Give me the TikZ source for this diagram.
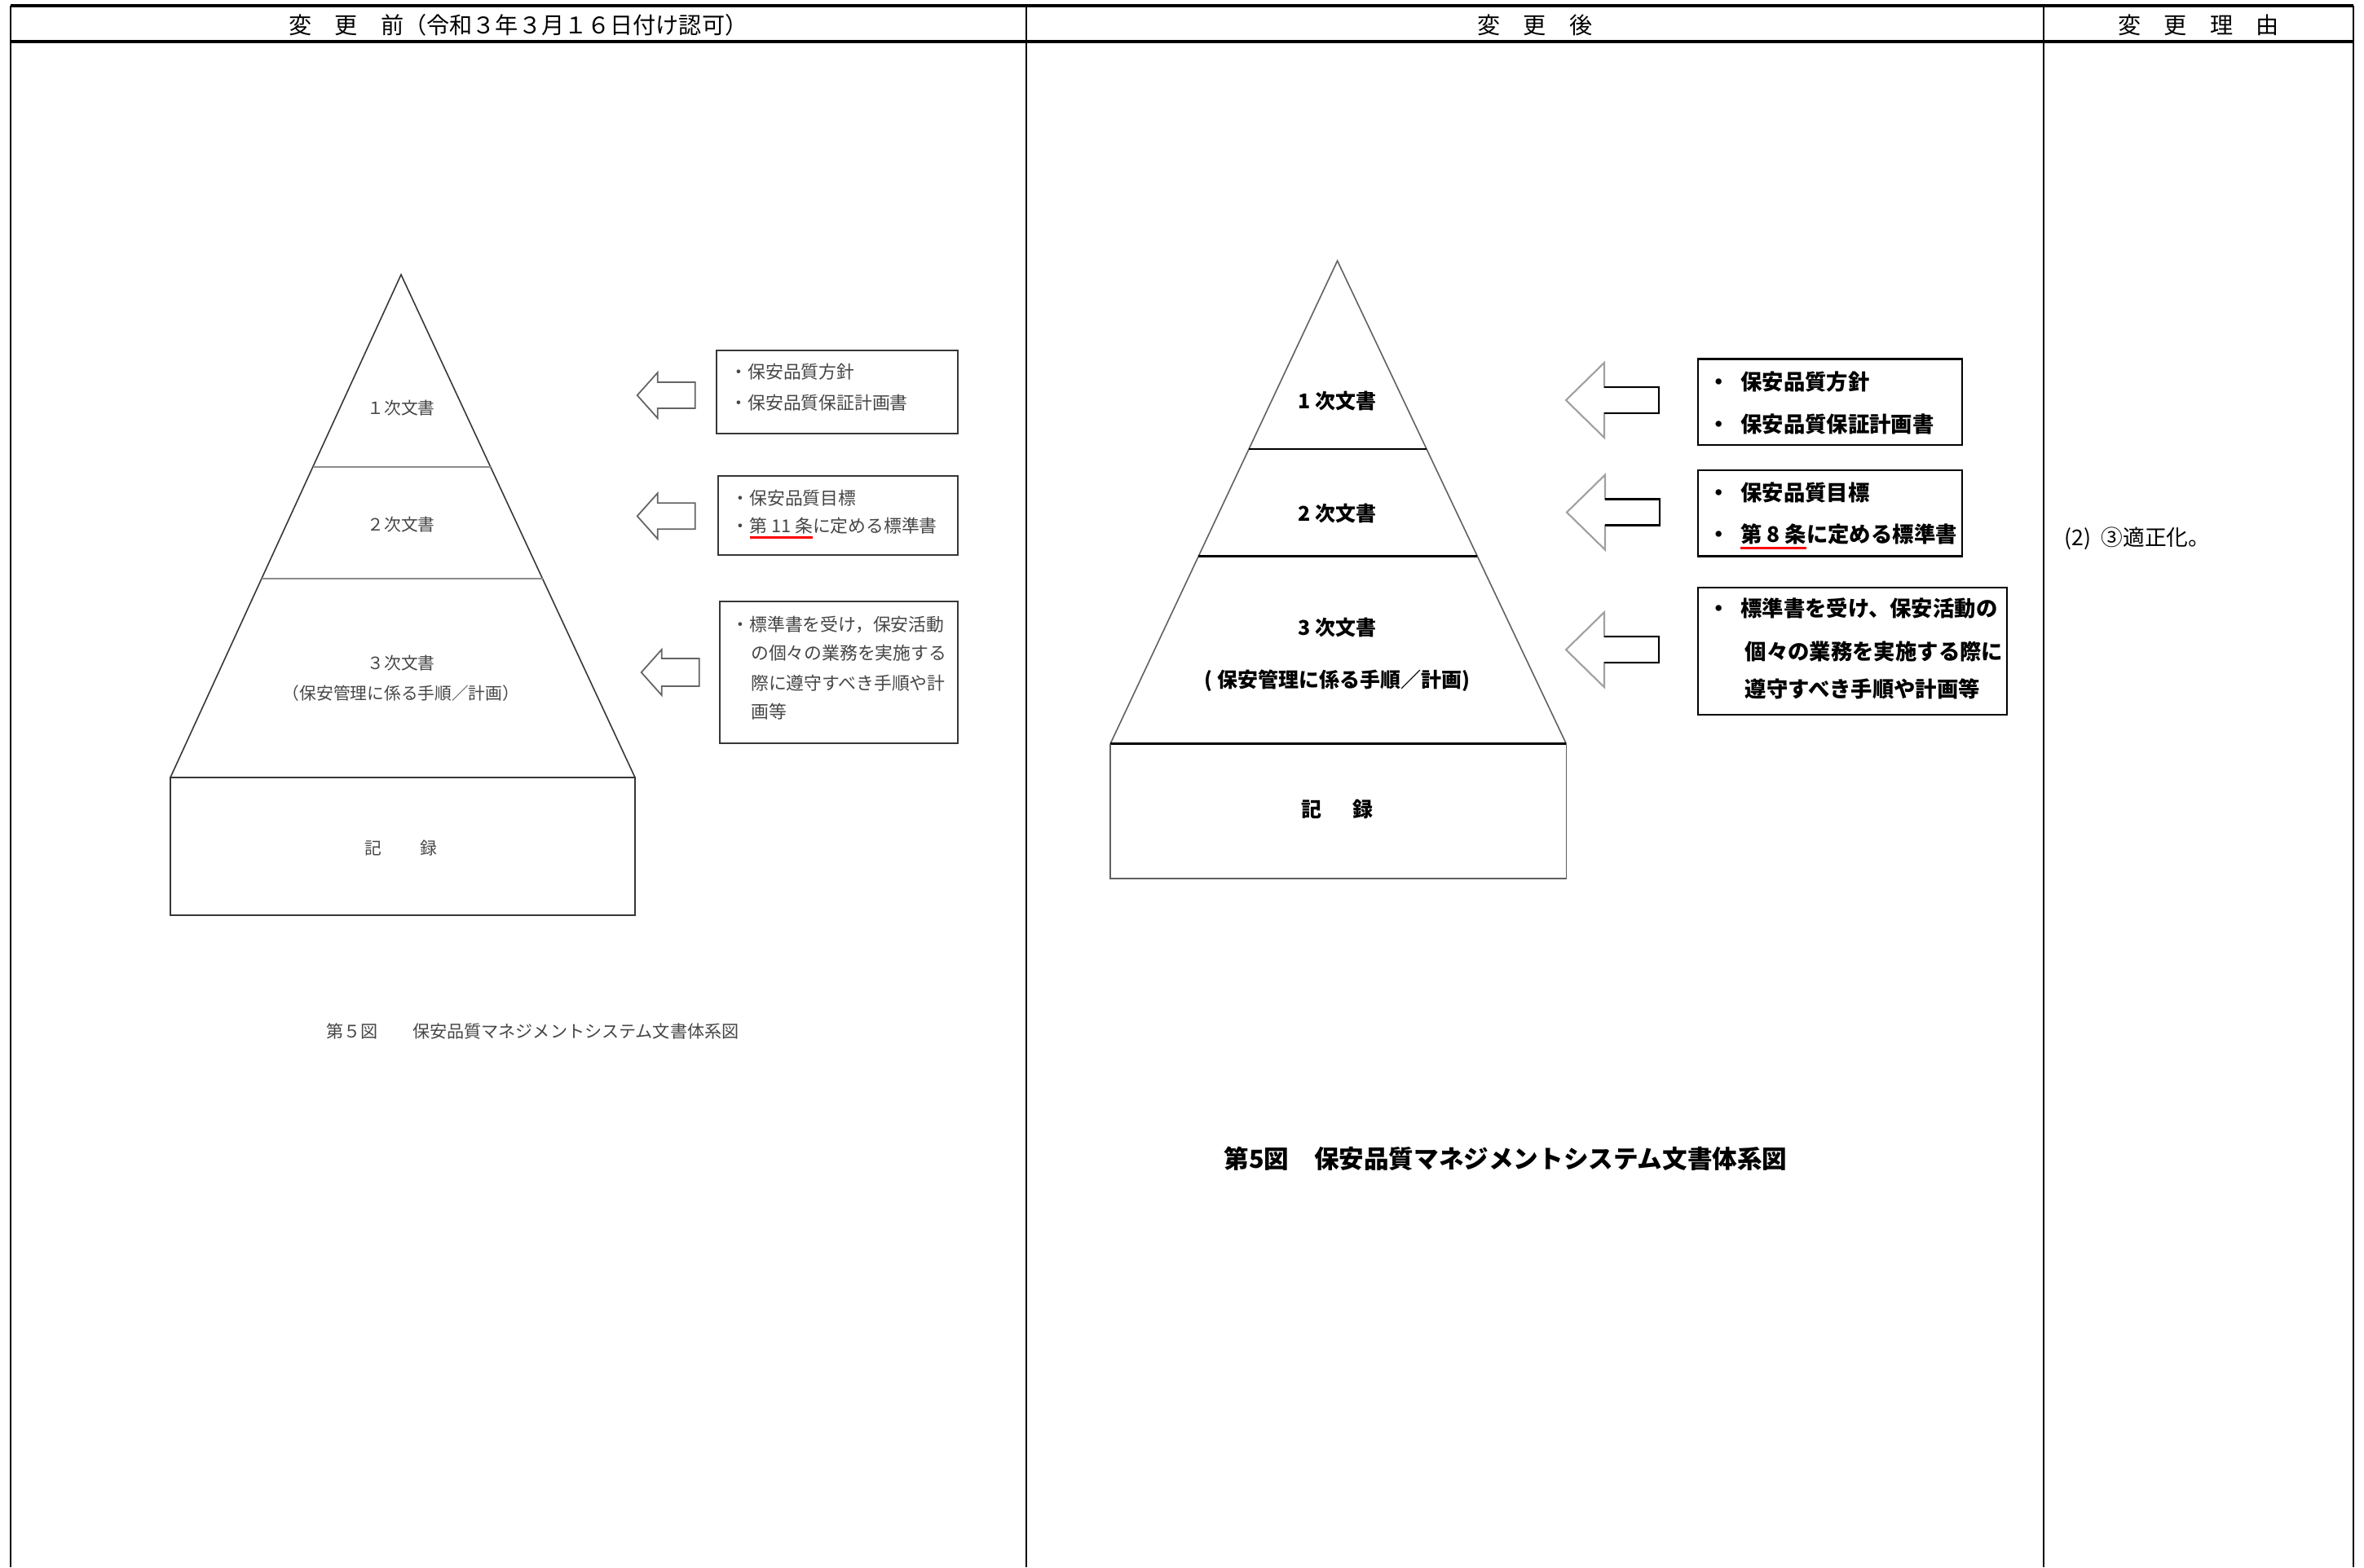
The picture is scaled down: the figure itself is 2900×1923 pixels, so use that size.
\documentclass[tikz,border=0pt]{standalone}
\usepackage{fontspec}
\setmainfont{Noto Sans CJK JP}
\usetikzlibrary{calc}
\definecolor{ltxt}{RGB}{70,70,70}
\definecolor{lline}{RGB}{55,55,55}
\definecolor{lsep}{RGB}{140,140,140}
\definecolor{agray}{RGB}{100,100,100}
\definecolor{rgray}{RGB}{120,120,120}
\newcommand{\redul}[1]{\setbox0=\hbox{#1}\rlap{\textcolor{red}{\rule[-0.34em]{\wd0}{0.13em}}}\box0}
% style, tip, headback, headhalf, shaftend, shafthalf
\newcommand{\harrow}[6]{\draw[#1] (#2) -- ++(#3,-#4) -- ++(0,#4-#6) -- ++(#5-#3,0) -- ++(0,2*#6) -- ++(#3-#5,0) -- ++(0,#4-#6) -- cycle;}
\begin{document}
\begin{tikzpicture}[x=0.01cm,y=-0.01cm,
  rule/.style={line width=1pt,black},
  vrule/.style={line width=0.5pt,black},
  hdr/.style={font=\fontsize{8}{9.6}\selectfont,inner sep=0pt},
  ltext/.style={font=\fontsize{5.9}{7}\selectfont,text=ltxt,inner sep=0pt},
  lbox/.style={font=\fontsize{6.2}{7.4}\selectfont,text=ltxt,inner sep=0pt,anchor=west},
  rlabel/.style={font=\fontsize{7.1}{8.5}\selectfont\bfseries,inner sep=0pt},
  rbox/.style={font=\fontsize{7.5}{9}\selectfont\bfseries,inner sep=0pt,anchor=west},
  lpyr/.style={line width=0.45pt,draw=lline},
  lsepl/.style={line width=0.8pt,draw=lsep},
  rpyr/.style={line width=0.45pt,draw=rgray!80!black},
  rsepl/.style={line width=0.8pt,draw=black},
  lframe/.style={line width=0.55pt,draw=lline},
  rframe/.style={line width=0.7pt,draw=black},
  larrow/.style={line width=0.5pt,draw=agray},
  rarrowhead/.style={line width=0.6pt,draw=rgray!70},
  rarrowshaft/.style={line width=0.7pt,draw=black}]
\useasboundingbox (0,0) rectangle (2900,1923);
\fill[white] (0,0) rectangle (2900,1923);

% ---------- table ----------
\draw[vrule] (13,7) -- (13,1923);
\draw[vrule] (1259,7) -- (1259,1923);
\draw[vrule] (2507,7) -- (2507,1923);
\draw[vrule] (2887,7) -- (2887,1923);
\draw[rule] (13,7) -- (2887,7);
\draw[rule] (13,51) -- (2887,51);
\node[hdr] (h1) at (636,31) {変　更　前（令和３年３月１６日付け認可）};
\node[hdr] (h2) at (1883,31) {変　更　後};
\node[hdr] (h3) at (2697,31) {変　更　理　由};

% ---------- left pyramid ----------
\coordinate (LA) at (492,337);
\coordinate (LBL) at (209,954);
\coordinate (LBR) at (779,954);
\draw[lpyr] (LBL) -- (LA) -- (LBR);
\draw[lsepl] ($(LA)!0.3825!(LBL)$) -- ($(LA)!0.3825!(LBR)$);
\draw[lsepl] ($(LA)!0.6045!(LBL)$) -- ($(LA)!0.6045!(LBR)$);
\draw[lframe] (209,954) rectangle (779,1123);
\node[ltext] (l1) at (492,501) {１次文書};
\node[ltext] (l2) at (492,644) {２次文書};
\node[ltext] (l3a) at (492,814) {３次文書};
\node[ltext] (l3b) at (492,851) {（保安管理に係る手順／計画）};
\node[ltext] (l4) at (492,1041) {記\hspace{2.3em}録};

% left arrows
\coordinate (la1) at (781.7,485);
\coordinate (la2) at (781.7,633.3);
\coordinate (la3) at (786.7,825);
\harrow{larrow}{la1}{25}{28}{71}{16}
\harrow{larrow}{la2}{25}{28}{71}{16}
\harrow{larrow}{la3}{25}{28}{71}{17}

% left boxes
\draw[lframe] (879,430) rectangle (1175,531.7);
\node[lbox] (lb1a) at (895,456.7) {・保安品質方針};
\node[lbox] (lb1b) at (895,494) {・保安品質保証計画書};
\draw[lframe] (880.7,584.3) rectangle (1175,680.7);
\node[lbox] (lb2a) at (897,611.7) {・保安品質目標};
\node[lbox] (lb2b) at (897,648.3) {・\redul{第 11 条}に定める標準書};
\draw[lframe] (882.7,738.3) rectangle (1175,911.7);
\node[lbox] (lb3a) at (897,766.7) {・標準書を受け，保安活動};
\node[lbox] (lb3b) at (920.5,801.7) {の個々の業務を実施する};
\node[lbox] (lb3c) at (920.5,838.3) {際に遵守すべき手順や計};
\node[lbox] (lb3d) at (920.5,873.3) {画等};

\node[ltext,font=\fontsize{6}{7.2}\selectfont,anchor=west] (lcap) at (400,1265) {第５図　　保安品質マネジメントシステム文書体系図};

% ---------- right pyramid ----------
\coordinate (RA) at (1640.6,320);
\coordinate (RBL) at (1362,912.8);
\coordinate (RBR) at (1921.4,912.8);
\draw[rpyr] (RBL) -- (RA) -- (RBR);
\draw[rsepl] ($(RA)!0.3897!(RBL)$) -- ($(RA)!0.3897!(RBR)$);
\draw[rsepl] ($(RA)!0.612!(RBL)$) -- ($(RA)!0.612!(RBR)$);
\draw[rsepl] (RBL) -- (RBR);
\draw[rpyr] (1362,912.8) -- (1362,1078) -- (1921.4,1078) -- (1921.4,912.8);
\node[rlabel] (r1) at (1640.6,491.6) {1 次文書};
\node[rlabel] (r2) at (1640.6,629.6) {2 次文書};
\node[rlabel] (r3a) at (1640.6,770) {3 次文書};
\node[rlabel] (r3b) at (1640.6,835) {( 保安管理に係る手順／計画)};
\node[rlabel] (r4) at (1640.6,993) {記\hspace{1.5em}録};

% right arrows
\coordinate (ra1) at (1921,491);
\coordinate (ra2) at (1922,628.6);
\coordinate (ra3) at (1921,797.2);
\foreach \t in {ra1,ra2,ra3}{
  \harrow{rarrowhead}{\t}{47}{46}{114}{16}
  \draw[rarrowshaft] (\t) ++(47,-16) -- ++(67,0) -- ++(0,32) -- ++(-67,0);
}

% right boxes
\draw[rframe] (2083,440.5) rectangle (2407,546);
\node[rbox] (rb1a) at (2095,468.8) {・\hspace{0.5em}保安品質方針};
\node[rbox] (rb1b) at (2095,520.7) {・\hspace{0.5em}保安品質保証計画書};
\draw[rframe] (2083,576.8) rectangle (2407,682.4);
\node[rbox] (rb2a) at (2095,604.2) {・\hspace{0.5em}保安品質目標};
\node[rbox] (rb2b) at (2095,658.3) {・\hspace{0.5em}\redul{第 8 条}に定める標準書};
\draw[rframe] (2083,721) rectangle (2462,877);
\node[rbox] (rb3a) at (2095,746) {・\hspace{0.5em}標準書を受け、保安活動の};
\node[rbox] (rb3b) at (2140,799) {個々の業務を実施する際に};
\node[rbox] (rb3c) at (2140,845) {遵守すべき手順や計画等};

\node[rbox,font=\fontsize{8.7}{10.4}\selectfont\bfseries] (rcap) at (1501,1422) {第5図　保安品質マネジメントシステム文書体系図};

% ---------- reason ----------
\node[inner sep=0pt,anchor=west,font=\fontsize{7.6}{9}\selectfont] (reason) at (2532,661) {(2)\hspace{0.45em}③適正化。};
\end{tikzpicture}
\end{document}
